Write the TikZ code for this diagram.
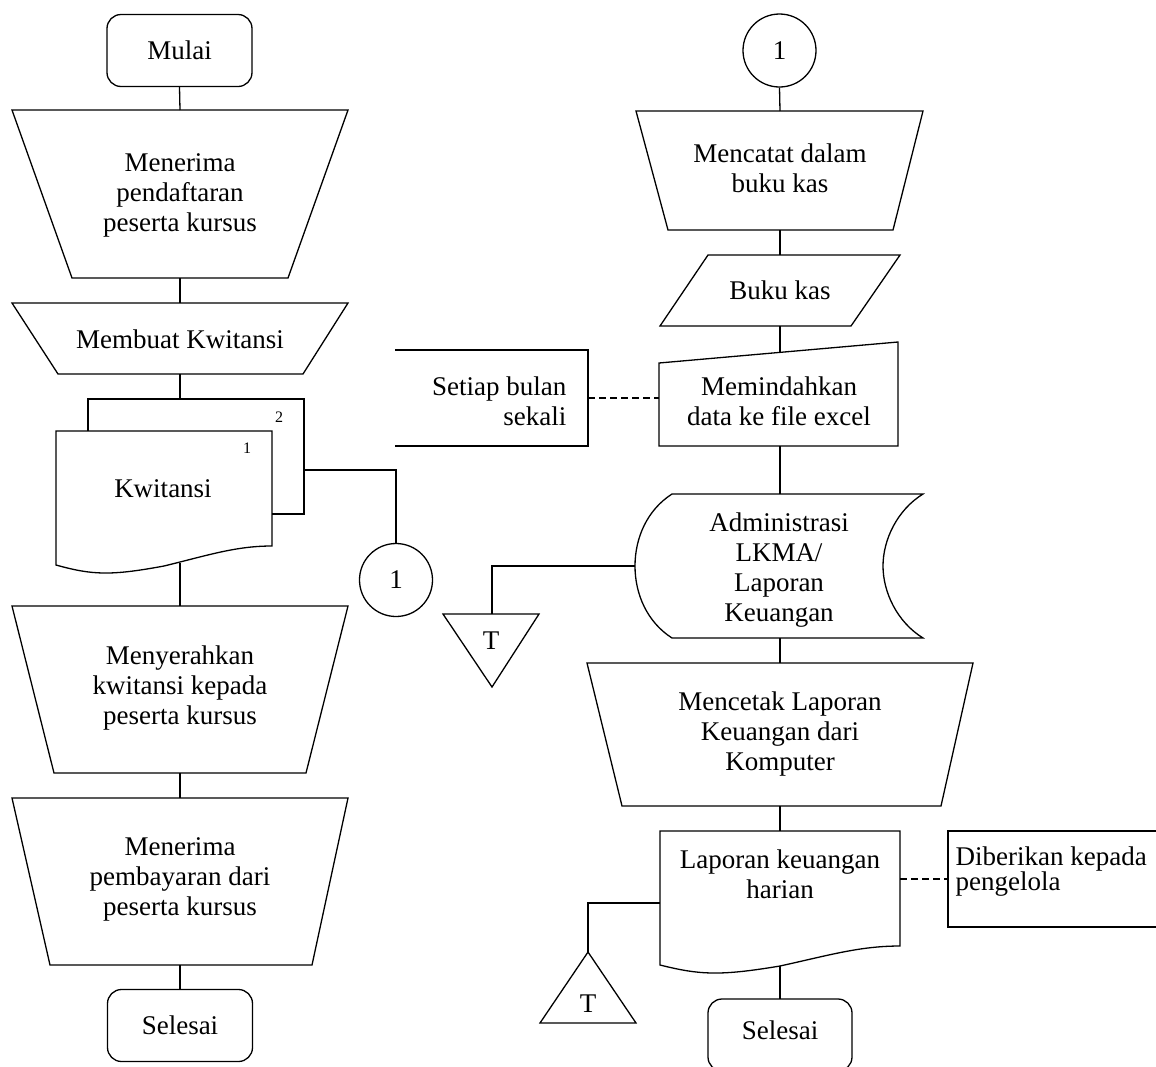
\documentclass[tikz,border=0pt]{standalone}
\usepackage{fontspec}
\setmainfont{Liberation Serif}
\begin{document}
\begin{tikzpicture}[x=1pt,y=-1pt,line width=1.3pt,line join=miter,
  lbl/.style={font=\fontsize{27}{30}\selectfont,align=center,inner sep=0pt},
  small/.style={font=\fontsize{16}{18}\selectfont,inner sep=0pt},
  term/.style={draw,rounded corners=14pt,minimum width=145pt,minimum height=72pt,font=\fontsize{27}{30}\selectfont,inner sep=0pt},
  conn/.style={draw,circle,minimum size=73pt,font=\fontsize{27}{30}\selectfont,inner sep=0pt},
  dashline/.style={dash pattern=on 7pt off 4pt}]
\clip (0,0) rectangle (1156,1066);
\useasboundingbox (0,0) rectangle (1156,1066);

% ---------- left column ----------
\node[term] (mulai) at (179.5,50.5) {Mulai};

\draw (12,110) -- (348,110) -- (288,278) -- (72,278) -- cycle;
\coordinate (t1n) at (180,110); \coordinate (t1s) at (180,278);
\node[lbl] (t1) at (180,195) {Menerima\\pendaftaran\\peserta kursus};

\draw (12,303) -- (348,303) -- (303,374) -- (58,374) -- cycle;
\coordinate (t2n) at (180,303); \coordinate (t2s) at (180,374);
\node[lbl] (t2) at (180,339) {Membuat Kwitansi};

% Kwitansi (2 copies)
\draw (88,431) -- (88,399) -- (304,399) -- (304,514) -- (272,514);
\coordinate (kbn) at (180,399); \coordinate (kbe) at (304,470);
\draw (56,431) -- (272,431) -- (272,546)
  .. controls (236,546) and (209,555) .. (164,566)
  .. controls (110,576) and (92,575) .. (56,565) -- cycle;
\coordinate (kfs) at (180,563);
\node[lbl] (kw) at (163,489) {Kwitansi};
\node[small] (k1) at (247,448) {1};
\node[small] (k2) at (279,417) {2};
\node[conn] (c1) at (396,580) {1};

\draw (12,606) -- (348,606) -- (306,773) -- (54,773) -- cycle;
\coordinate (t3n) at (180,606); \coordinate (t3s) at (180,773);
\node[lbl] (t3) at (180,688) {Menyerahkan\\kwitansi kepada\\peserta kursus};

\draw (12,798) -- (348,798) -- (312,965) -- (50,965) -- cycle;
\coordinate (t4n) at (180,798); \coordinate (t4s) at (180,965);
\node[lbl] (t4) at (180,879) {Menerima\\pembayaran dari\\peserta kursus};

\node[term] (sel1) at (180,1025.5) {Selesai};

\draw (mulai.south) -- (t1n);
\draw (t1s) -- (t2n);
\draw (t2s) -- (kbn);
\draw (kbe) -| (c1.north);
\draw (kfs) -- (t3n);
\draw (t3s) -- (t4n);
\draw (t4s) -- (sel1.north);

% ---------- right column ----------
\node[conn] (c2) at (779.5,50.5) {1};

\draw (636,111) -- (923,111) -- (893,230) -- (668,230) -- cycle;
\coordinate (t5n) at (780,111); \coordinate (t5s) at (780,230);
\node[lbl] (t5) at (780,168) {Mencatat dalam\\buku kas};

\draw (708,255) -- (900,255) -- (851,326) -- (660,326) -- cycle;
\coordinate (pn) at (780,255); \coordinate (ps) at (780,326);
\node[lbl] (bk) at (780,290) {Buku kas};

\draw (659,363) -- (898,342) -- (898,446) -- (659,446) -- cycle;
\coordinate (mn) at (780,352.4); \coordinate (ms) at (780,446); \coordinate (mw) at (659,398);
\node[lbl] (mi) at (779,401) {Memindahkan\\data ke file excel};

\draw (395,350) -- (588,350) -- (588,446) -- (395,446);
\coordinate (a1e) at (588,398);
\node[lbl,anchor=east,align=right] (a1) at (567,401) {Setiap bulan\\sekali};
\draw[dashline] (a1e) -- (mw);

% stored data
\draw (672,494) -- (923,494)
  .. controls (897,510) and (883,540) .. (883,566)
  .. controls (883,592) and (897,622) .. (923,638)
  -- (672,638)
  .. controls (647,622) and (635,594) .. (635,566)
  .. controls (635,538) and (647,510) .. (672,494) -- cycle;
\coordinate (dn) at (780,494); \coordinate (ds) at (780,638); \coordinate (dw) at (635,566);
\node[lbl] (dk) at (779,570) {Administrasi\\LKMA/\\Laporan\\Keuangan};

\draw (443,614) -- (539,614) -- (492,687) -- cycle;
\coordinate (tr1n) at (492,614);
\node[lbl] (tr1) at (491,641) {T};

\draw (587,663) -- (973,663) -- (941,806) -- (622,806) -- cycle;
\coordinate (t6n) at (780,663); \coordinate (t6s) at (780,806);
\node[lbl] (t6) at (780,734) {Mencetak Laporan\\Keuangan dari\\Komputer};

% document Laporan
\draw (660,831) -- (900,831) -- (900,946)
  .. controls (860,946) and (830,955) .. (780,966)
  .. controls (720,976) and (700,975) .. (660,965) -- cycle;
\coordinate (ln) at (780,831); \coordinate (ls) at (780,966);
\coordinate (lw) at (660,903); \coordinate (le) at (900,879);
\node[lbl] (lap) at (780,874) {Laporan keuangan\\harian};

\draw (588,952) -- (636,1023) -- (540,1023) -- cycle;
\coordinate (tr2n) at (588,952);
\node[lbl] (tr2) at (588,1004) {T};

\draw[rounded corners=14pt] (708,999) rectangle (852,1071);
\coordinate (s2n) at (780,999);
\node[lbl] (sel2) at (780,1030) {Selesai};

\draw (1170,831) -- (948,831) -- (948,927) -- (1170,927);
\coordinate (a2w) at (948,879);
\node[lbl,anchor=west,align=left,font=\fontsize{27}{25}\selectfont] (a2) at (955,872) {Diberikan kepada\\pengelola};
\draw[dashline] (le) -- (a2w);

\draw (c2.south) -- (t5n);
\draw (t5s) -- (pn);
\draw (ps) -- (mn);
\draw (ms) -- (dn);
\draw (dw) -| (tr1n);
\draw (ds) -- (t6n);
\draw (t6s) -- (ln);
\draw (lw) -| (tr2n);
\draw (ls) -- (s2n);
\end{tikzpicture}
\end{document}
